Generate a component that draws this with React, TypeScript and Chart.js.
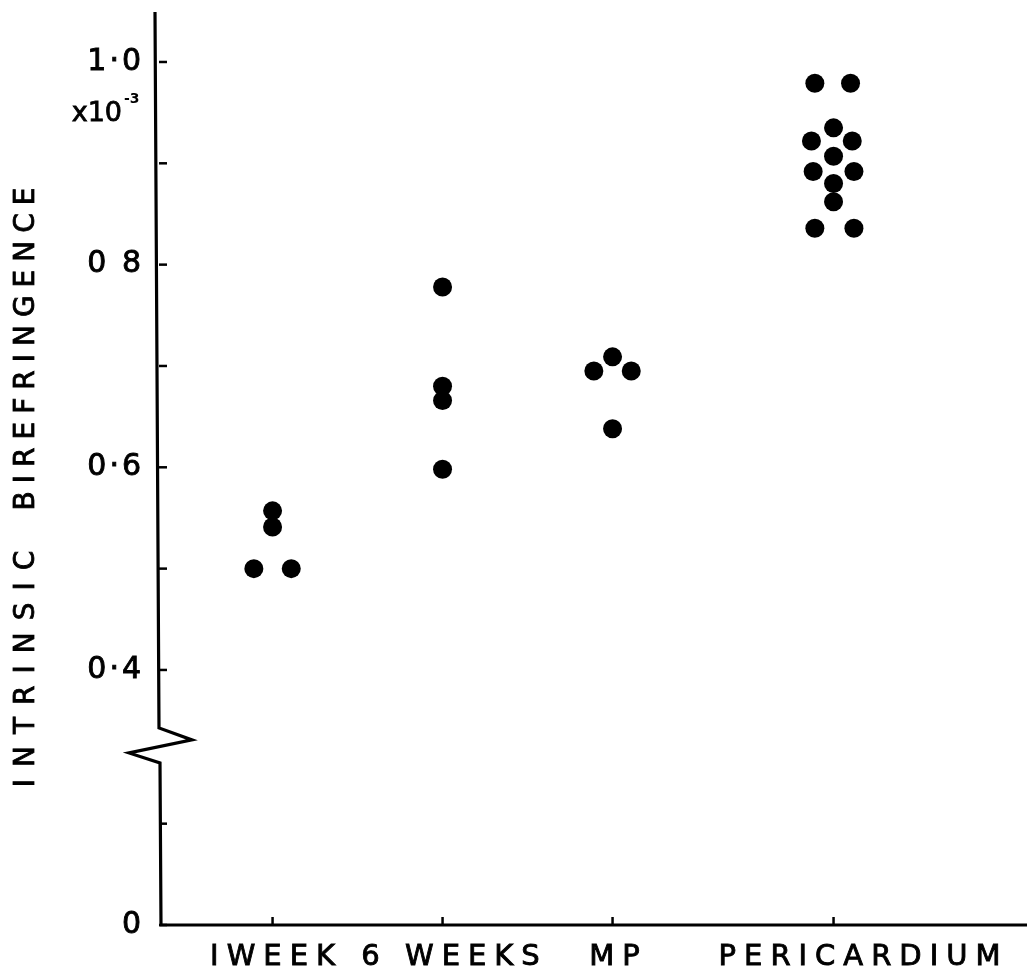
import React, { useEffect, useRef } from "react";
import { Chart, registerables } from "chart.js";

Chart.register(...registerables);

// ---- data ----
const categories = ["IWEEK", "6 WEEKS", "MP", "PERICARDIUM"];
const categoryX = [1, 2, 3, 4.3];

const week1Values = [0.5, 0.5, 0.541, 0.557];
const week1Offsets = [-0.11, 0.11, 0, 0];

const weeks6Values = [0.778, 0.68, 0.666, 0.598];
const weeks6Offsets = [0, 0, 0, 0];

const mpValues = [0.709, 0.695, 0.695, 0.638];
const mpOffsets = [0, -0.11, 0.11, 0];

const pericardiumValues = [0.979, 0.979, 0.935, 0.922, 0.922, 0.907, 0.892, 0.892, 0.88, 0.862, 0.836, 0.836];
const pericardiumOffsets = [-0.11, 0.1, 0, -0.13, 0.11, 0, -0.12, 0.12, 0, 0, -0.11, 0.12];

const upperTickValues = [0.4, 0.5, 0.6, 0.7, 0.8, 0.9, 1.0];
const upperTickLabels = ["0·4", "", "0·6", "", "0 8", "", "1·0"];
const lowerTickValues = [0, 0.1];
const lowerTickLabels = ["0", ""];
const lowerSegmentShift = 0.1483; // broken axis: the lower segment is drawn shifted up by this much
const breakValue = 0.326;

const yMin = 0.1483;
const yMax = 1.0513;
const xMin = 0.332;
const xMax = 5.438;

const multiplierText = "x10";
const multiplierExp = "-3";
const yTitleWords = ["INTRINSIC", "BIREFRINGENCE"];

const seriesValues = [week1Values, weeks6Values, mpValues, pericardiumValues];
const seriesOffsets = [week1Offsets, weeks6Offsets, mpOffsets, pericardiumOffsets];

// ---- styling ----
const FONT = "'DejaVu Sans', sans-serif";
const labelNudge = [0, 8, 2, 26]; // px: hand-lettered labels sit slightly right of their ticks
const titleWordCenters = [669, 349]; // px (vertical centres of the rotated title words)
const titleWordSpacing = [12, 8];

function heavyText(ctx: CanvasRenderingContext2D, s: string, x: number, y: number, w = 0.9) {
  ctx.fillText(s, x, y);
  ctx.lineWidth = w;
  ctx.strokeText(s, x, y);
}

const paperAxes = {
  id: "paperAxes",
  beforeDatasetsDraw(chart: any) {
    const { ctx, chartArea, scales } = chart;
    const xs = scales.x;
    const ys = scales.y;
    const ax = chartArea.left;
    const ay = chartArea.bottom;
    ctx.save();
    ctx.strokeStyle = "#000";
    ctx.fillStyle = "#000";
    ctx.lineWidth = 3.2;
    ctx.lineJoin = "miter";
    ctx.lineCap = "butt";

    // axis line with break
    const by = ys.getPixelForValue(breakValue);
    ctx.beginPath();
    ctx.moveTo(ax - 4, chartArea.top + 2);
    ctx.lineTo(ax, by - 17);
    ctx.lineTo(ax + 33, by - 5);
    ctx.lineTo(ax - 30, by + 8);
    ctx.lineTo(ax + 1, by + 18);
    ctx.lineTo(ax + 2, ay);
    ctx.lineTo(chartArea.right + 5, ay);
    ctx.stroke();

    // y ticks + labels
    ctx.font = `30px ${FONT}`;
    ctx.textAlign = "right";
    ctx.textBaseline = "middle";
    (ctx as any).letterSpacing = "3px";
    const drawYTick = (v: number, label: string) => {
      const py = ys.getPixelForValue(v);
      ctx.lineWidth = 2.5;
      ctx.beginPath();
      ctx.moveTo(ax, py);
      ctx.lineTo(ax + 8, py);
      ctx.stroke();
      if (label) heavyText(ctx, label, ax - 15, py);
    };
    upperTickValues.forEach((v, i) => drawYTick(v, upperTickLabels[i]));
    lowerTickValues.forEach((v, i) => drawYTick(v + lowerSegmentShift, lowerTickLabels[i]));

    // multiplier below the top label
    const topY = ys.getPixelForValue(upperTickValues[upperTickValues.length - 1]);
    ctx.font = `27px ${FONT}`;
    ctx.textBaseline = "alphabetic";
    (ctx as any).letterSpacing = "0px";
    heavyText(ctx, multiplierText, ax - 37, topY + 59, 0.8);
    ctx.textAlign = "left";
    ctx.font = `bold 14px ${FONT}`;
    ctx.fillText(multiplierExp, ax - 35, topY + 41);

    // x ticks + labels
    ctx.font = `29px ${FONT}`;
    ctx.textAlign = "center";
    ctx.textBaseline = "alphabetic";
    const ls = 8;
    (ctx as any).letterSpacing = `${ls}px`;
    categoryX.forEach((cx, i) => {
      const px = xs.getPixelForValue(cx);
      ctx.lineWidth = 2.5;
      ctx.beginPath();
      ctx.moveTo(px, ay);
      ctx.lineTo(px, ay - 8);
      ctx.stroke();
      heavyText(ctx, categories[i], px + ls / 2 + labelNudge[i], ay + 40);
    });

    // y title (two hand-spaced words)
    ctx.font = `28px ${FONT}`;
    ctx.textAlign = "center";
    ctx.textBaseline = "middle";
    yTitleWords.forEach((w, i) => {
      ctx.save();
      ctx.translate(27, titleWordCenters[i]);
      ctx.rotate(-Math.PI / 2);
      (ctx as any).letterSpacing = `${titleWordSpacing[i]}px`;
      heavyText(ctx, w, titleWordSpacing[i] / 2, 0, 0.8);
      ctx.restore();
    });

    ctx.restore();
  },
};

export default function App() {
  const canvasRef = useRef<HTMLCanvasElement | null>(null);

  useEffect(() => {
    document.body.style.margin = "0";
    const canvas = canvasRef.current;
    if (!canvas) return;
    const datasets = seriesValues.map((vals, k) => ({
      label: categories[k],
      data: vals.map((v, i) => ({ x: categoryX[k] + seriesOffsets[k][i], y: v })),
      backgroundColor: "#000",
      borderColor: "#000",
      borderWidth: 0,
      pointRadius: 9.5,
      pointHoverRadius: 9.5,
      clip: false as any,
    }));
    const chart = new Chart(canvas, {
      type: "scatter",
      data: { datasets },
      options: {
        animation: false,
        responsive: false,
        maintainAspectRatio: false,
        devicePixelRatio: 1,
        events: [],
        layout: { autoPadding: false, padding: { left: 159, top: 10, right: 0, bottom: 49 } },
        plugins: {
          legend: { display: false },
          tooltip: { enabled: false },
          title: { display: false },
        },
        scales: {
          x: { type: "linear", min: xMin, max: xMax, display: false },
          y: { type: "linear", min: yMin, max: yMax, display: false },
        },
      },
      plugins: [paperAxes],
    });
    return () => chart.destroy();
  }, []);

  return (
    <div style={{ width: 1027, height: 974, background: "#fff" }}>
      <canvas ref={canvasRef} width={1027} height={974} style={{ display: "block", width: 1027, height: 974 }} />
    </div>
  );
}
